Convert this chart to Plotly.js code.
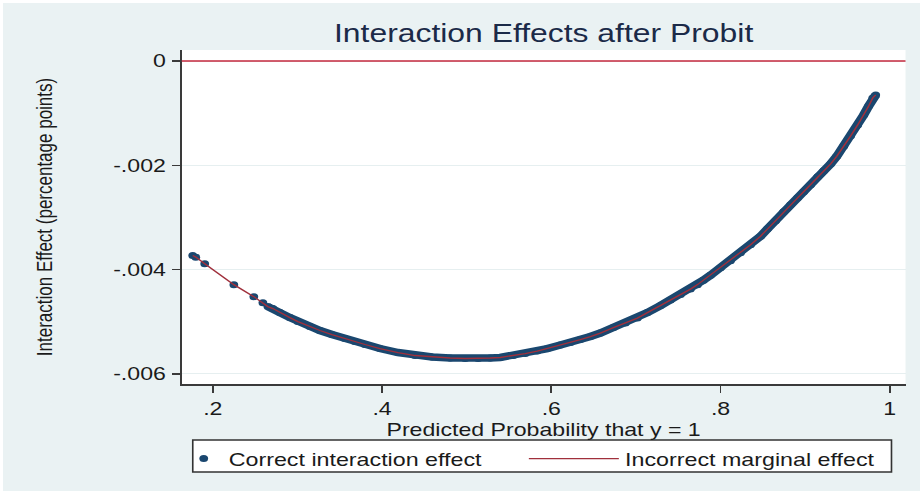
<!DOCTYPE html>
<html><head><meta charset="utf-8">
<script src="https://cdn.plot.ly/plotly-3.0.1.min.js"></script>
<style>
html,body{margin:0;padding:0;background:#ffffff;overflow:hidden}
#wrap{position:absolute;left:3px;top:3px;width:734px;height:489px;transform:scaleX(1.25);transform-origin:0 0}
</style></head><body><div id="wrap"></div>
<script>
// Predicted probability that y = 1 (x values)
const probX = [0.1763, 0.1799, 0.1905, 0.2249, 0.2485, 0.2592, 0.2651, 0.2710, 0.2793, 0.2911,
  0.3006, 0.3148, 0.3266, 0.3408, 0.3562, 0.3680, 0.3799, 0.3976, 0.4189, 0.4391,
  0.4592, 0.4805, 0.4982, 0.5136, 0.5278, 0.5396, 0.5550, 0.5692, 0.5834, 0.5953,
  0.6107, 0.6225, 0.6343, 0.6462, 0.6580, 0.6734, 0.6876, 0.7018, 0.7136, 0.7290,
  0.7408, 0.7527, 0.7645, 0.7728, 0.7799, 0.7882, 0.8000, 0.8118, 0.8237, 0.8355,
  0.8473, 0.8556, 0.8651, 0.8746, 0.8828, 0.8911, 0.8982, 0.9065, 0.9148, 0.9219,
  0.9302, 0.9373, 0.9456, 0.9538, 0.9621, 0.9692, 0.9751, 0.9799, 0.9834];
// Correct interaction effect
const correctIE = [-0.003730, -0.003760, -0.003885, -0.004287, -0.004517, -0.004632, -0.004708, -0.004746, -0.004823, -0.004919,
  -0.004995, -0.005091, -0.005167, -0.005244, -0.005321, -0.005378, -0.005435, -0.005512, -0.005589, -0.005646,
  -0.005675, -0.005694, -0.005703, -0.005703, -0.005694, -0.005684, -0.005646, -0.005608, -0.005560, -0.005512,
  -0.005445, -0.005397, -0.005340, -0.005282, -0.005215, -0.005110, -0.005024, -0.004928, -0.004823, -0.004689,
  -0.004584, -0.004478, -0.004373, -0.004287, -0.004201, -0.004105, -0.003962, -0.003828, -0.003675, -0.003522,
  -0.003359, -0.003215, -0.003062, -0.002890, -0.002756, -0.002622, -0.002507, -0.002373, -0.002220, -0.002105,
  -0.001971, -0.001828, -0.001636, -0.001435, -0.001225, -0.001033, -0.000861, -0.000708, -0.000651];
// Incorrect marginal effect: drawn on top of the scatter, coincides with it in the picture
const incorrectME = correctIE;
const denseStart = 6; // first point of the continuous dense band

const xTickVals = [0.2, 0.4, 0.6, 0.8, 1];
const xTickText = ['.2', '.4', '.6', '.8', '1'];
const yTickVals = [0, -0.002, -0.004, -0.006];
const yTickText = ['0', '-.002', '-.004', '-.006'];
const zeroLineY = 0;

const navy = '#1a476f';
const maroon = '#a0303c';
const axisCol = '#3a3a3a';

const traces = [
  {x: probX, y: correctIE, type: 'scatter', mode: 'markers', name: 'Correct interaction effect',
   legend: 'legend', marker: {color: navy, size: 7}, hoverinfo: 'skip'},
  {x: probX.slice(denseStart), y: correctIE.slice(denseStart), type: 'scatter', mode: 'lines',
   showlegend: false, line: {color: navy, width: 7.5}, hoverinfo: 'skip'},
  {x: probX, y: incorrectME, type: 'scatter', mode: 'lines', name: 'Incorrect marginal effect',
   legend: 'legend2', line: {color: maroon, width: 1.3}, hoverinfo: 'skip'}
];

const legendFont = {size: 18.6, color: '#1a1a1a'};
const layout = {
  width: 734, height: 488,
  paper_bgcolor: '#eaf2f3', plot_bgcolor: '#ffffff',
  margin: {l: 143.2, r: 12.4, t: 47, b: 107, pad: 0},
  font: {family: '"Liberation Sans", Arial, sans-serif', color: '#1a1a1a'},
  title: {text: 'Interaction Effects after Probit', font: {size: 25.5, color: '#1b2a48'},
          x: 0.5, xref: 'paper', xanchor: 'center', y: 1 - 30.5 / 488, yref: 'container', yanchor: 'middle'},
  xaxis: {range: [0.16333, 1.01857], tickmode: 'array', tickvals: xTickVals, ticktext: xTickText,
          ticks: 'outside', ticklen: 7, tickwidth: 1.5, tickcolor: axisCol,
          showline: true, linecolor: axisCol, linewidth: 1.5, showgrid: false, zeroline: false,
          tickfont: {size: 18.5, color: '#1a1a1a'},
          title: {text: 'Predicted Probability that y = 1', font: {size: 18.5, color: '#1a1a1a'}, standoff: 0}},
  yaxis: {range: [-0.006192, 0.000211], tickmode: 'array', tickvals: yTickVals, ticktext: yTickText,
          ticks: 'outside', ticklen: 6.5, tickwidth: 1.5, tickcolor: axisCol, ticklabelstandoff: 1,
          showline: true, linecolor: axisCol, linewidth: 1.5, showgrid: true, gridcolor: '#e6eff0', gridwidth: 1,
          zeroline: false, tickfont: {size: 18.5, color: '#1a1a1a'},
          title: {text: 'Interaction Effect (percentage points)', font: {size: 17, color: '#1a1a1a'}, standoff: 44}},
  showlegend: true,
  legend: {orientation: 'h', x: -0.00415, xanchor: 'left', y: -0.16766, yanchor: 'top',
           bgcolor: 'rgba(0,0,0,0)', borderwidth: 0, font: legendFont},
  legend2: {orientation: 'h', x: 0.47095, xanchor: 'left', y: -0.16766, yanchor: 'top', itemwidth: 72,
           bgcolor: 'rgba(0,0,0,0)', borderwidth: 0, font: legendFont},
  shapes: [
    {type: 'line', xref: 'paper', x0: 0, x1: 1, yref: 'y', y0: zeroLineY, y1: zeroLineY,
     line: {color: '#c4283e', width: 1.5}, layer: 'above'},
    // common white box framing both legend entries
    {type: 'rect', xref: 'paper', yref: 'paper', x0: 0.01521, x1: 0.98064, y0: -0.16766, y1: -0.26347,
     fillcolor: '#ffffff', line: {color: '#333333', width: 1.3}, layer: 'above'}
  ]
};

Plotly.newPlot('wrap', traces, layout, {displayModeBar: false, staticPlot: true});
</script></body></html>
